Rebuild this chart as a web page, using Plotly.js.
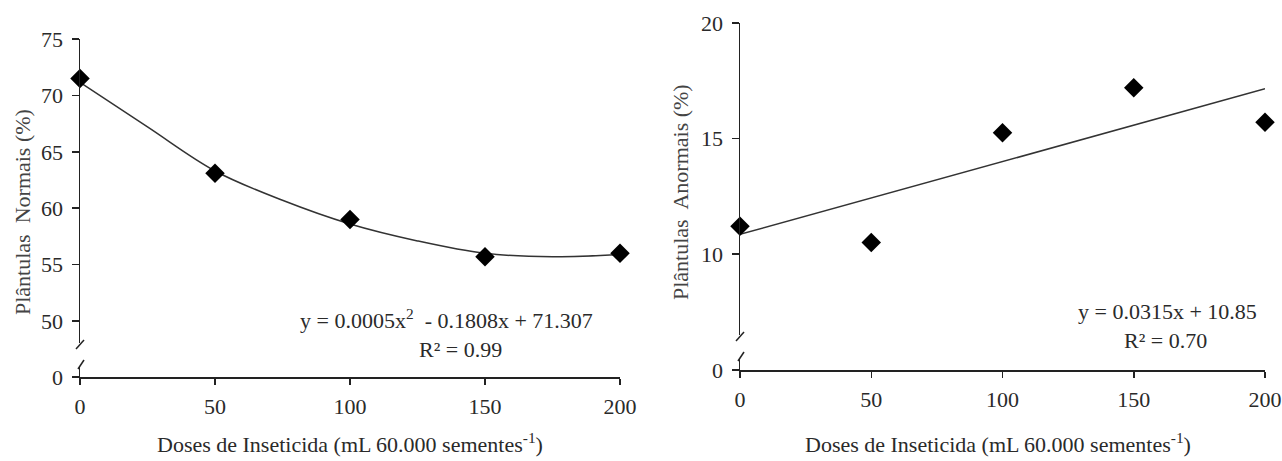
<!DOCTYPE html>
<html>
<head>
<meta charset="utf-8">
<script src="https://cdn.plot.ly/plotly-3.0.1.min.js"></script>
<style>html,body{margin:0;padding:0;background:#fff;}#chart{width:1282px;height:461px;}</style>
</head>
<body>
<div id="chart"></div>
<script>
// ---- data ----
const doses = [0, 50, 100, 150, 200];
const normais = [71.5, 63.1, 59.0, 55.7, 56.0];
const anormais = [11.2, 10.5, 15.25, 17.2, 15.7];
// fitted curves
const normaisFitX = [0, 25, 50, 75, 100, 125, 150, 175, 200];
const normaisFitY = [71.15, 67.2, 63.3, 60.7, 58.6, 57.1, 56.0, 55.7, 55.9];
const anormaisFitX = [0, 200];
const anormaisFitY = [10.85, 17.15];
const xTicks = [0, 50, 100, 150, 200];
const yTicksNormais = [50, 55, 60, 65, 70, 75];
const yTicksAnormais = [10, 15, 20];
const xTitle = 'Doses de Inseticida (mL 60.000 sementes<sup>-1</sup>)';
const yTitleNormais = 'Plântulas  Normais (%)';
const yTitleAnormais = 'Plântulas  Anormais (%)';
const eqNormais = 'y = 0.0005x<sup>2</sup>  - 0.1808x + 71.307';
const r2Normais = 'R² = 0.99';
const eqAnormais = 'y = 0.0315x + 10.85';
const r2Anormais = 'R² = 0.70';

// ---- layout helpers ----
const W = 1282, H = 461;
const px = v => v / W;
const py = v => 1 - v / H;
const FONT = 'Liberation Serif, Times New Roman, serif';
const TXT = '#2a2a2a';
const LINE = '#222';
const FS = 22;

const markerStyle = {symbol: 'diamond', size: 15, color: '#000'};
const lineStyle = {color: '#333', width: 1.5};

const traces = [
  {x: normaisFitX, y: normaisFitY, xaxis: 'x', yaxis: 'y', mode: 'lines', line: Object.assign({shape: 'spline', smoothing: 1}, lineStyle), hoverinfo: 'skip'},
  {x: doses, y: normais, xaxis: 'x', yaxis: 'y', mode: 'markers', marker: markerStyle, cliponaxis: false},
  {x: anormaisFitX, y: anormaisFitY, xaxis: 'x2', yaxis: 'y3', mode: 'lines', line: lineStyle, hoverinfo: 'skip'},
  {x: doses, y: anormais, xaxis: 'x2', yaxis: 'y3', mode: 'markers', marker: markerStyle, cliponaxis: false},
  // empty traces so the lower (zero) sub-axes exist
  {x: [], y: [], xaxis: 'x', yaxis: 'y2', mode: 'markers', hoverinfo: 'skip'},
  {x: [], y: [], xaxis: 'x2', yaxis: 'y4', mode: 'markers', hoverinfo: 'skip'}
];

const tickFont = {family: FONT, size: FS, color: TXT};
const xBase = {range: [0, 200], tickvals: xTicks, ticks: 'outside', ticklen: 6, tickwidth: 1.5, tickcolor: LINE,
  showline: true, linecolor: LINE, linewidth: 1.5, showgrid: false, zeroline: false, tickfont: tickFont, ticklabelstandoff: 3};
const yBase = {ticks: 'outside', ticklen: 7, tickwidth: 1.5, tickcolor: LINE, showline: true, linecolor: LINE, linewidth: 1.5,
  showgrid: false, zeroline: false, tickfont: tickFont, ticklabelstandoff: 4};

// pixel geometry of the two panels
const L = {x0: 80, x1: 620, top: 39, upBottom: 343, lowTop: 366, zero: 377, pxPerUnit: 282 / 25, ymax: 75};
const R = {x0: 740, x1: 1265, top: 23, upBottom: 335, lowTop: 358, zero: 370, pxPerUnit: 231 / 10, ymax: 20};

function ann(x, y, text, extra) {
  return Object.assign({xref: 'paper', yref: 'paper', x: px(x), y: py(y), xanchor: 'center', yanchor: 'middle',
    text: text, showarrow: false, font: {family: FONT, size: FS, color: TXT}}, extra || {});
}

const layout = {
  width: W, height: H, margin: {l: 0, r: 0, t: 0, b: 0},
  paper_bgcolor: '#fff', plot_bgcolor: 'rgba(0,0,0,0)', showlegend: false,
  font: {family: FONT, color: TXT},
  xaxis: Object.assign({}, xBase, {domain: [px(L.x0), px(L.x1)], anchor: 'y2'}),
  yaxis: Object.assign({}, yBase, {domain: [py(L.upBottom), py(L.top)], anchor: 'x',
    range: [L.ymax - (L.upBottom - L.top) / L.pxPerUnit, L.ymax], tickvals: yTicksNormais}),
  yaxis2: Object.assign({}, yBase, {domain: [py(L.zero), py(L.lowTop)], anchor: 'x', range: [0, 1], tickvals: [0]}),
  xaxis2: Object.assign({}, xBase, {domain: [px(R.x0), px(R.x1)], anchor: 'y4'}),
  yaxis3: Object.assign({}, yBase, {domain: [py(R.upBottom), py(R.top)], anchor: 'x2',
    range: [R.ymax - (R.upBottom - R.top) / R.pxPerUnit, R.ymax], tickvals: yTicksAnormais}),
  yaxis4: Object.assign({}, yBase, {domain: [py(R.zero), py(R.lowTop)], anchor: 'x2', range: [0, 1], tickvals: [0]}),
  annotations: [
    ann(350, 443, xTitle),
    ann(998, 443, xTitle),
    ann(22, 212, yTitleNormais, {textangle: -90, font: {family: FONT, size: FS, color: '#444'}}),
    ann(681, 192, yTitleAnormais, {textangle: -90, font: {family: FONT, size: FS, color: '#444'}}),
    ann(446, 319, eqNormais),
    ann(460, 349, r2Normais),
    ann(1167, 311, eqAnormais),
    ann(1165, 340, r2Anormais)
  ],
  shapes: [
    // axis break marks
    {type: 'line', xref: 'paper', yref: 'paper', x0: px(L.x0 - 4), y0: py(L.upBottom + 6), x1: px(L.x0 + 4), y1: py(L.upBottom - 3), line: {color: LINE, width: 1.5}},
    {type: 'line', xref: 'paper', yref: 'paper', x0: px(L.x0 - 2), y0: py(L.lowTop + 3), x1: px(L.x0 + 4), y1: py(L.lowTop - 6), line: {color: LINE, width: 1.5}},
    {type: 'line', xref: 'paper', yref: 'paper', x0: px(R.x0 - 4), y0: py(R.upBottom + 6), x1: px(R.x0 + 4), y1: py(R.upBottom - 3), line: {color: LINE, width: 1.5}},
    {type: 'line', xref: 'paper', yref: 'paper', x0: px(R.x0 - 2), y0: py(R.lowTop + 3), x1: px(R.x0 + 4), y1: py(R.lowTop - 6), line: {color: LINE, width: 1.5}}
  ]
};

Plotly.newPlot('chart', traces, layout, {displayModeBar: false, staticPlot: true});
</script>
</body>
</html>
